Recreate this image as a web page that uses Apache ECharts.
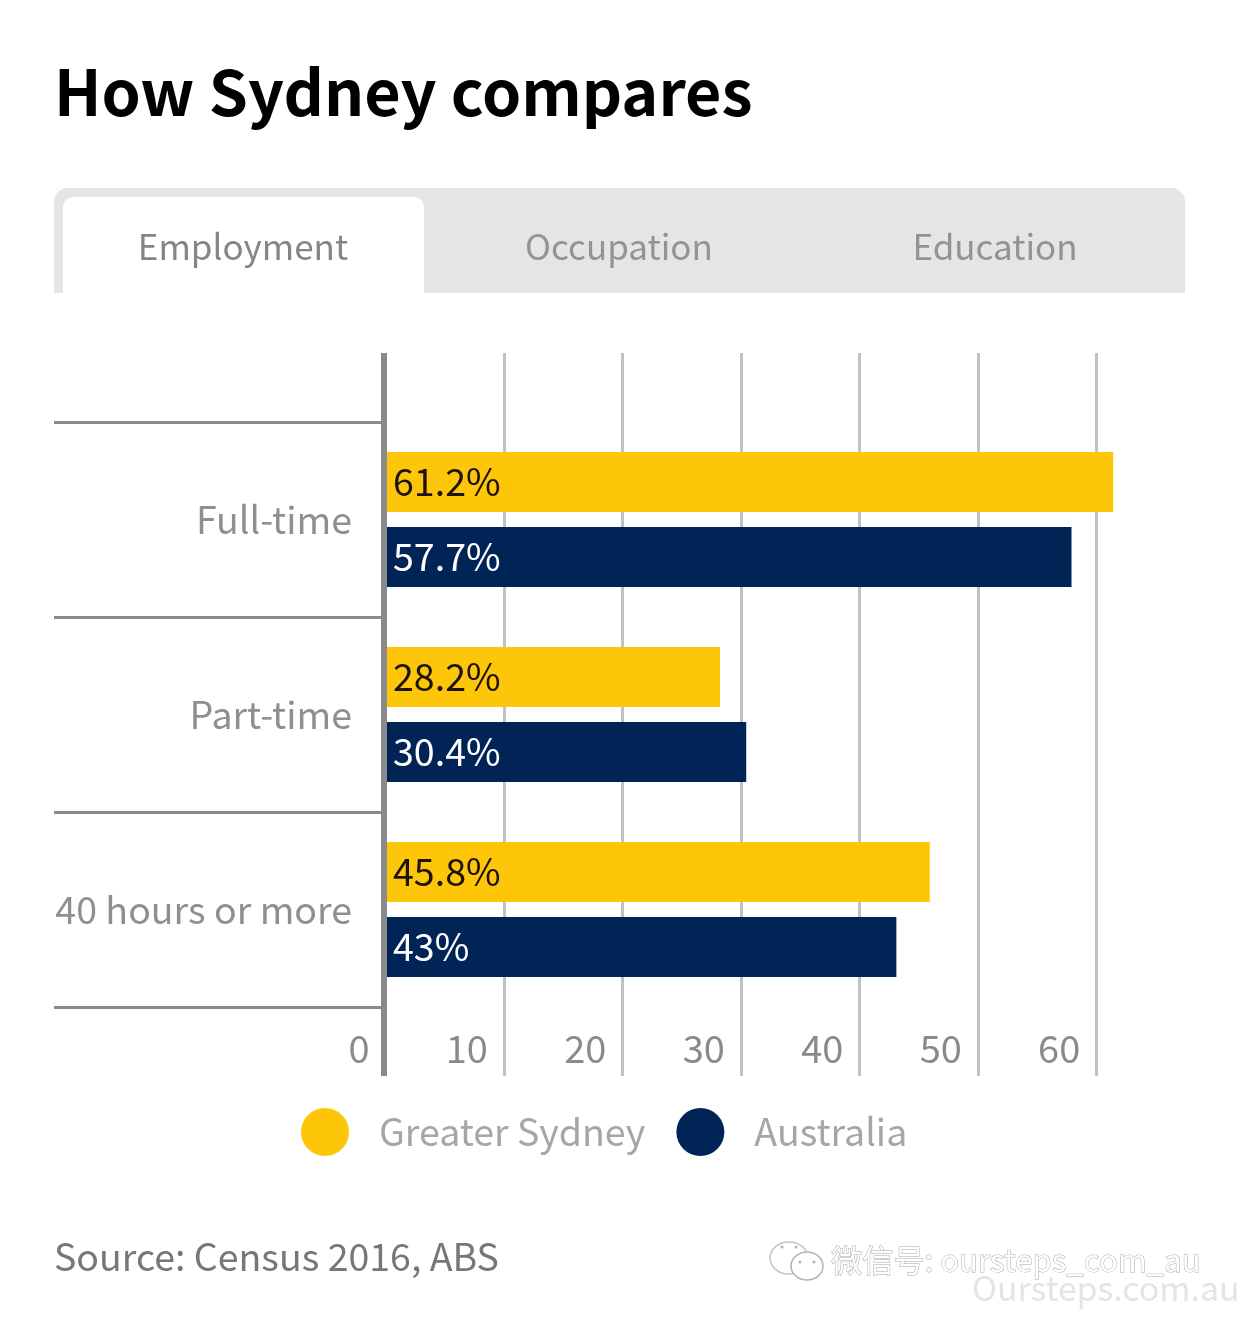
<!DOCTYPE html>
<html>
<head>
<meta charset="utf-8">
<title>How Sydney compares</title>
<script src="https://cdn.jsdelivr.net/npm/echarts@6/dist/echarts.min.js"></script>
<style>
  html, body { margin: 0; padding: 0; background: #fff; }
  #char { width: 1242px; height: 1319px; }
</style>
</head>
<body>
<div id="char"></div>
<script>
const categories = ['Full-time', 'Part-time', '40 hours or more']
const sydney = [61.2, 28.2, 45.8]
const australia = [57.7, 30.4, 43]
const tabs = ['Employment', 'Occupation', 'Education']
const font = '"Noto Sans CJK SC", "Noto Sans", sans-serif'

const myChart = echarts.init(document.getElementById('char'), null, { renderer: 'canvas' })

const tabX = [243, 619, 995]
const eyes = [[782, 1247], [796, 1247], [800, 1262], [814, 1262]]
const graphic = [
  {
    type: 'rect',
    silent: true,
    z: 0,
    shape: { x: 54, y: 188, width: 1131, height: 105, r: [14, 14, 0, 0] },
    style: { fill: '#e5e5e5' }
  },
  {
    type: 'rect',
    silent: true,
    z: 1,
    shape: { x: 63, y: 197, width: 361, height: 96, r: [10, 10, 0, 0] },
    style: { fill: '#fff' }
  },
  ...tabs.map((name, i) => ({
    type: 'text',
    silent: true,
    z: 2,
    x: tabX[i],
    y: 247,
    style: {
      text: name,
      font: '35px ' + font,
      fill: i === 0 ? '#858585' : '#939393',
      align: 'center',
      verticalAlign: 'middle'
    }
  })),
  {
    type: 'text',
    silent: true,
    x: 54,
    y: 1257,
    style: {
      text: 'Source: Census 2016, ABS',
      font: '37.5px ' + font,
      fill: '#777',
      align: 'left',
      verticalAlign: 'middle'
    }
  },
  // wechat watermark
  {
    type: 'ellipse',
    silent: true,
    z: 1,
    shape: { cx: 789, cy: 1258, rx: 19, ry: 16 },
    style: { fill: '#fff', stroke: '#c4c4c4', lineWidth: 1.5 }
  },
  {
    type: 'ellipse',
    silent: true,
    z: 2,
    shape: { cx: 807, cy: 1266, rx: 16, ry: 14 },
    style: { fill: '#fff', stroke: '#b4b4b4', lineWidth: 1.5 }
  },
  ...eyes.map(([cx, cy]) => ({
    type: 'circle',
    silent: true,
    z: 3,
    shape: { cx, cy, r: 1.5 },
    style: { fill: '#b4b4b4' }
  })),
  {
    type: 'text',
    silent: true,
    x: 831,
    y: 1260,
    style: {
      text: '微信号: oursteps_com_au',
      font: '31.2px ' + font,
      fill: '#fff',
      stroke: '#a8a8a8',
      lineWidth: 1,
      align: 'left',
      verticalAlign: 'middle'
    }
  },
  {
    type: 'text',
    silent: true,
    x: 972,
    y: 1288,
    style: {
      text: 'Oursteps.com.au',
      font: '33.8px ' + font,
      fill: '#e4e4e4',
      align: 'left',
      verticalAlign: 'middle'
    }
  }
]

const barLabel = (color) => ({
  show: true,
  position: 'insideLeft',
  distance: 9,
  color: color,
  fontFamily: font,
  fontSize: 37.6,
  formatter: ({ value }) => value + '%'
})

const option = {
  animation: false,
  backgroundColor: '#fff',
  title: {
    text: 'How Sydney compares',
    left: 49,
    top: 56,
    textStyle: {
      fontFamily: font,
      fontWeight: 'bold',
      fontSize: 62.8,
      color: '#000'
    }
  },
  legend: {
    left: 296,
    top: 1103,
    itemWidth: 48,
    itemHeight: 48,
    itemGap: 31,
    icon: 'circle',
    selectedMode: false,
    textStyle: {
      fontFamily: font,
      fontSize: 37.5,
      color: '#a6a6a6',
      padding: [0, 0, 2, 25]
    },
    data: ['Greater Sydney', 'Australia']
  },
  grid: [
    { left: 384, top: 422, width: 774.5, height: 585 },
    { left: 385.5, top: 353, width: 770, height: 723 }
  ],
  xAxis: [
    {
      gridIndex: 0,
      type: 'value',
      min: 0,
      max: 65,
      show: false
    },
    {
      gridIndex: 1,
      type: 'value',
      min: 0,
      max: 65,
      interval: 10,
      axisLine: { show: false },
      axisTick: { show: false },
      axisLabel: {
        inside: true,
        align: 'right',
        margin: 8,
        padding: [0, 16, 0, 0],
        color: '#8a8a8a',
        fontFamily: font,
        fontSize: 38,
        showMaxLabel: false
      },
      splitLine: {
        show: true,
        showMinLine: false,
        showMaxLine: false,
        lineStyle: { color: '#c2c2c2', width: 3 }
      }
    }
  ],
  yAxis: [
    {
      gridIndex: 0,
      type: 'category',
      inverse: true,
      data: categories,
      axisLine: { show: false },
      axisTick: {
        show: true,
        length: 330,
        interval: 0,
        lineStyle: { color: '#8a8a8a', width: 3 }
      },
      axisLabel: {
        margin: 32,
        color: '#8f8f8f',
        fontFamily: font,
        fontSize: 37.5
      }
    },
    {
      gridIndex: 1,
      type: 'value',
      min: 0,
      max: 1,
      offset: 1.5,
      splitLine: { show: false },
      axisTick: { show: false },
      axisLabel: { show: false },
      axisLine: {
        show: true,
        onZero: false,
        lineStyle: { color: '#8a8a8a', width: 6, cap: 'butt' }
      },
      z: 5
    }
  ],
  series: [
    {
      name: 'Greater Sydney',
      type: 'bar',
      xAxisIndex: 0,
      yAxisIndex: 0,
      barWidth: 60,
      barGap: '25%',
      itemStyle: { color: '#fec609' },
      label: barLabel('#1c1206'),
      data: sydney
    },
    {
      name: 'Australia',
      type: 'bar',
      xAxisIndex: 0,
      yAxisIndex: 0,
      barWidth: 60,
      itemStyle: { color: '#012457' },
      label: barLabel('#fff'),
      data: australia
    }
  ],
  graphic: graphic
}

myChart.setOption(option)
</script>
</body>
</html>
